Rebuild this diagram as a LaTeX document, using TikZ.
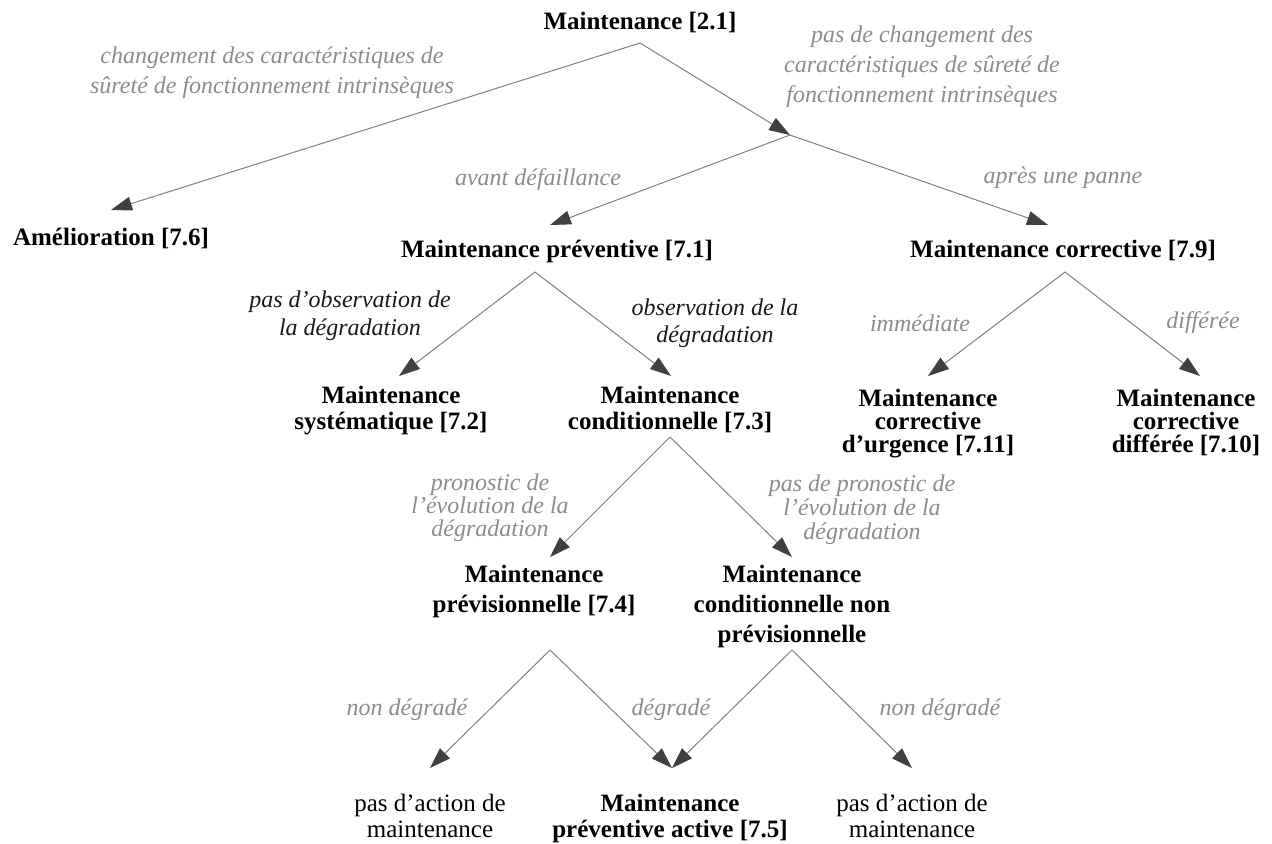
\documentclass[tikz,border=0pt]{standalone}
\usepackage{fontspec}
\setmainfont{Liberation Serif}
\usetikzlibrary{arrows.meta}

\begin{document}
\begin{tikzpicture}[x=0.5pt,y=-0.5pt,
  etat/.style={align=center,inner sep=0pt,anchor=north,font=\fontsize{12.5}{#1}\selectfont\bfseries},
  etat/.default=13,
  fin/.style={align=center,inner sep=0pt,anchor=north,font=\fontsize{12.5}{#1}\selectfont},
  fin/.default=13,
  cond/.style={align=center,inner sep=0pt,text=black!45,font=\fontsize{12}{#1}\selectfont\itshape},
  cond/.default=14,
  obs/.style={cond=#1,text=black!90},
  obs/.default=14,
  arr/.style={draw=black!50,line width=0.5pt,-{Triangle[length=10.5pt,width=7pt,color=black!75]}}]
\useasboundingbox (0,0) rectangle (1272,843);

\node[etat] (m21) at (640,12) {Maintenance [2.1]};
\node[etat] (amel) at (111,228) {Amélioration [7.6]};
\node[etat] (prev) at (557,240) {Maintenance préventive [7.1]};
\node[etat] (corr) at (1063,240) {Maintenance corrective [7.9]};
\node[etat] (syst) at (391,386) {Maintenance\\systématique [7.2]};
\node[etat] (condi) at (670,386) {Maintenance\\conditionnelle [7.3]};
\node[etat=11.5] (urg) at (928,389) {Maintenance\\corrective\\d’urgence [7.11]};
\node[etat=11.5] (diff) at (1186,389) {Maintenance\\corrective\\différée [7.10]};
\node[etat=15] (previs) at (534,565) {Maintenance\\prévisionnelle [7.4]};
\node[etat=15] (nonprev) at (792,565) {Maintenance\\conditionnelle non\\prévisionnelle};
\node[fin] (rien1) at (430,794) {pas d’action de\\maintenance};
\node[etat] (active) at (670,794) {Maintenance\\préventive active [7.5]};
\node[fin] (rien2) at (912,794) {pas d’action de\\maintenance};

\node[cond=15] (l-chg) at (272,73) {changement des caractéristiques de\\sûreté de fonctionnement intrinsèques};
\node[cond=15] (l-pchg) at (922,67) {pas de changement des\\caractéristiques de sûreté de\\fonctionnement intrinsèques};
\node[cond] (l-avant) at (538,180) {avant défaillance};
\node[cond] (l-apres) at (1063,178) {après une panne};
\node[obs] (l-pobs) at (350,316) {pas d’observation de\\la dégradation};
\node[obs=13.5] (l-obs) at (715,323) {observation de la\\dégradation};
\node[cond] (l-imm) at (920,323) {immédiate};
\node[cond] (l-dif) at (1203,323) {différée};
\node[cond=11.5] (l-pron) at (490,508) {pronostic de\\l’évolution de la\\dégradation};
\node[cond=12] (l-ppron) at (862,510) {pas de pronostic de\\l’évolution de la\\dégradation};
\node[cond] (l-nd1) at (407,710) {non dégradé};
\node[cond] (l-deg) at (671,710) {dégradé};
\node[cond] (l-nd2) at (940,710) {non dégradé};

\coordinate (f21) at (640,43);
\coordinate (fj) at (790,135);
\coordinate (f-prev) at (535,272);
\coordinate (f-corr) at (1065,272);
\coordinate (f-cond) at (670,437);
\coordinate (f-previs) at (550,650);
\coordinate (f-nonprev) at (792,650);

\draw[arr] (f21) -- ([yshift=9pt]amel.north);
\draw[arr] (f21) -- (fj);
\draw[arr] (fj) -- ([xshift=-3.5pt,yshift=7.5pt]prev.north);
\draw[arr] (fj) -- ([xshift=-7.5pt,yshift=7.5pt]corr.north);
\draw[arr] (f-prev) -- ([xshift=4pt,yshift=5pt]syst.north);
\draw[arr] (f-prev) -- ([xshift=0.5pt,yshift=5pt]condi.north);
\draw[arr] (f-corr) -- ([yshift=6.5pt]urg.north);
\draw[arr] (f-corr) -- ([xshift=7pt,yshift=6.5pt]diff.north);
\draw[arr] (f-cond) -- ([xshift=8pt,yshift=4pt]previs.north);
\draw[arr] (f-cond) -- ([yshift=4pt]nonprev.north);
\draw[arr] (f-previs) -- ([yshift=13pt]rien1.north);
\draw[arr] (f-previs) -- ([xshift=1pt,yshift=13pt]active.north);
\draw[arr] (f-nonprev) -- ([xshift=1pt,yshift=13pt]active.north);
\draw[arr] (f-nonprev) -- ([yshift=13pt]rien2.north);
\end{tikzpicture}
\end{document}
